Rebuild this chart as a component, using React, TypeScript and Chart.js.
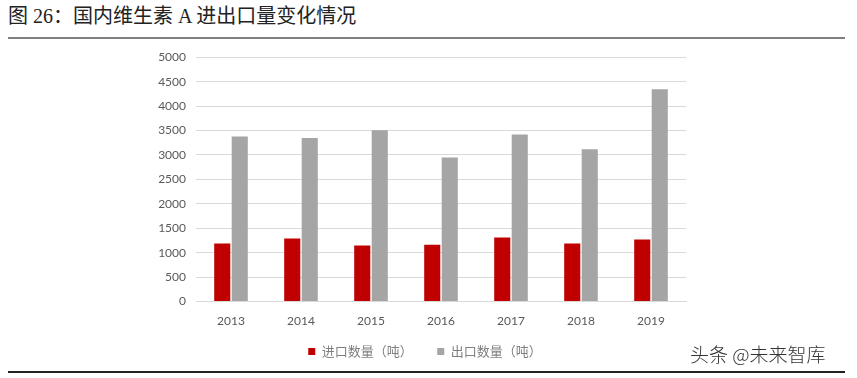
import React, { useEffect, useRef } from "react";
import { Chart, registerables } from "chart.js";

Chart.register(...registerables);

const categories = ["2013", "2014", "2015", "2016", "2017", "2018", "2019"];
const importValues = [1190, 1290, 1150, 1165, 1310, 1190, 1270];
const exportValues = [3380, 3345, 3505, 2950, 3420, 3115, 4345];
const seriesNames = ["进口数量（吨）", "出口数量（吨）"];
const yTicks = { min: 0, max: 5000, step: 500 };

const legendShift = {
  id: "legendShift",
  afterLayout(chart: any) {
    const lg = chart.legend;
    if (lg) {
      lg.left += 12;
      lg.right += 12;
    }
  },
};

export default function App() {
  const ref = useRef<HTMLCanvasElement | null>(null);

  useEffect(() => {
    document.body.style.margin = "0";
    const canvas = ref.current;
    if (!canvas) return;
    const chart = new Chart(canvas, {
      type: "bar",
      data: {
        labels: categories,
        datasets: [
          {
            label: seriesNames[0],
            data: importValues,
            backgroundColor: "#c00000",
            borderWidth: 0,
            barPercentage: 0.92,
            categoryPercentage: 0.5,
          },
          {
            label: seriesNames[1],
            data: exportValues,
            backgroundColor: "#a5a5a5",
            borderWidth: 0,
            barPercentage: 0.92,
            categoryPercentage: 0.5,
          },
        ],
      },
      plugins: [legendShift],
      options: {
        animation: false,
        responsive: false,
        maintainAspectRatio: false,
        layout: { padding: { left: 0, right: 14, top: 0, bottom: 0 } },
        plugins: {
          tooltip: { enabled: false },
          legend: {
            position: "bottom",
            labels: {
              boxWidth: 7,
              boxHeight: 7,
              padding: 5,
              color: "#7f7f7f",
              font: { family: "'Noto Sans CJK SC', sans-serif", size: 13 },
              generateLabels: (c: any) => {
                const items = Chart.defaults.plugins.legend.labels.generateLabels(c);
                return items.map((it: any, i: number) =>
                  i < items.length - 1 ? { ...it, text: it.text + "\u2003\u2002" } : it
                );
              },
            },
          },
        },
        scales: {
          x: {
            grid: { display: false, drawTicks: false },
            border: { color: "#d9d9d9", width: 1 },
            ticks: {
              color: "#595959",
              padding: 12,
              font: { family: "Lato, 'Open Sans', sans-serif", size: 12 },
            },
          },
          y: {
            min: yTicks.min,
            max: yTicks.max,
            grid: { color: "#d9d9d9", drawTicks: false },
            border: { display: false },
            afterFit: (scale: any) => {
              scale.width = 56;
            },
            ticks: {
              stepSize: yTicks.step,
              color: "#595959",
              padding: 10,
              font: { family: "Lato, 'Open Sans', sans-serif", size: 12 },
              callback: (v: any) => String(v),
            },
          },
        },
      },
    });
    return () => chart.destroy();
  }, []);

  return (
    <div style={{ position: "relative", width: 857, height: 378, background: "#fff", overflow: "hidden" }}>
      <div
        style={{
          position: "absolute",
          left: 8,
          top: 2,
          fontFamily: "'Liberation Serif', 'Noto Sans CJK SC', serif",
          fontSize: 20,
          color: "#222",
          whiteSpace: "nowrap",
          lineHeight: "28px",
        }}
      >
        图 26：国内维生素 A 进出口量变化情况
      </div>
      <div style={{ position: "absolute", left: 8, top: 37, width: 837, height: 2, background: "#7f7f7f" }} />
      <canvas ref={ref} width={560} height={328} style={{ position: "absolute", left: 140, top: 40 }} />
      <div
        style={{
          position: "absolute",
          left: 690,
          top: 340,
          fontFamily: "'Noto Sans CJK SC', sans-serif",
          fontSize: 19,
          fontWeight: 300,
          color: "#333",
          whiteSpace: "nowrap",
          lineHeight: "28px",
        }}
      >
        头条 @未来智库
      </div>
      <div style={{ position: "absolute", left: 8, top: 371, width: 837, height: 2, background: "#222" }} />
    </div>
  );
}
